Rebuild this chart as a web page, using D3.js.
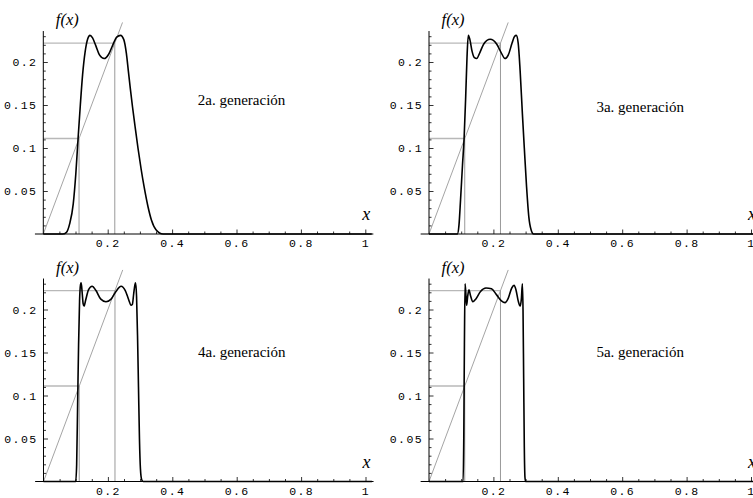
<!DOCTYPE html>
<html>
<head>
<meta charset="utf-8">
<script src="https://cdn.jsdelivr.net/npm/d3@7"></script>
<style>
  body { margin: 0; background: #fff; }
  svg { display: block; }
</style>
</head>
<body>
<svg id="chart" width="753" height="498"></svg>
<script>
// Panel titles
const titles = ['2a. generación', '3a. generación', '4a. generación', '5a. generación'];

// Curves, [x, f(x)]
const gen2 = [[0, 0], [0.06, 0], [0.072, 0.002], [0.082, 0.012], [0.093, 0.035], [0.101, 0.07],
  [0.108, 0.111], [0.115, 0.15], [0.122, 0.185], [0.13, 0.212], [0.138, 0.227], [0.145, 0.231],
  [0.153, 0.228], [0.163, 0.219], [0.175, 0.208], [0.189, 0.204], [0.203, 0.209], [0.215, 0.219],
  [0.228, 0.229], [0.24, 0.231], [0.25, 0.226], [0.258, 0.21], [0.264, 0.19], [0.27, 0.17],
  [0.277, 0.148], [0.285, 0.125], [0.294, 0.1], [0.304, 0.075], [0.313, 0.055], [0.325, 0.032],
  [0.336, 0.016], [0.35, 0.005], [0.372, 0], [1.02, 0]];

const gen3 = [[0, 0], [0.088, 0], [0.093, 0.01], [0.098, 0.04], [0.104, 0.08], [0.109, 0.111],
  [0.114, 0.16], [0.118, 0.205], [0.122, 0.231], [0.127, 0.226], [0.134, 0.212], [0.141, 0.205],
  [0.148, 0.204], [0.158, 0.211], [0.17, 0.221], [0.19, 0.2264], [0.21, 0.221], [0.224, 0.211],
  [0.236, 0.204], [0.246, 0.208], [0.258, 0.222], [0.266, 0.23], [0.271, 0.231], [0.277, 0.222],
  [0.283, 0.19], [0.29, 0.14], [0.296, 0.1], [0.303, 0.055], [0.31, 0.02], [0.317, 0.005],
  [0.325, 0], [1.02, 0]];

const gen4 = [[0, 0], [0.1, 0], [0.103, 0.02], [0.106, 0.09], [0.109, 0.16], [0.112, 0.21],
  [0.115, 0.229], [0.117, 0.231], [0.12, 0.22], [0.123, 0.207], [0.126, 0.204], [0.131, 0.211],
  [0.14, 0.223], [0.151, 0.227], [0.163, 0.222], [0.178, 0.212], [0.194, 0.209], [0.21, 0.212],
  [0.225, 0.221], [0.241, 0.227], [0.254, 0.222], [0.264, 0.212], [0.272, 0.205], [0.276, 0.206],
  [0.28, 0.218], [0.284, 0.229], [0.286, 0.231], [0.289, 0.215], [0.292, 0.17], [0.295, 0.11],
  [0.298, 0.05], [0.301, 0.015], [0.305, 0.002], [0.31, 0], [1.02, 0]];

const gen5 = [[0, 0], [0.106, 0], [0.108, 0.05], [0.11, 0.16], [0.112, 0.23], [0.115, 0.215],
  [0.117, 0.205], [0.12, 0.215], [0.124, 0.223], [0.129, 0.216], [0.136, 0.209], [0.145, 0.212],
  [0.16, 0.221], [0.177, 0.225], [0.194, 0.224], [0.21, 0.217], [0.225, 0.21], [0.236, 0.208],
  [0.246, 0.213], [0.257, 0.225], [0.264, 0.228], [0.27, 0.223], [0.277, 0.21], [0.283, 0.204],
  [0.287, 0.213], [0.29, 0.23], [0.292, 0.2], [0.294, 0.12], [0.296, 0.04], [0.298, 0.005],
  [0.3, 0], [1.02, 0]];

// Guide lines: the two levels and the diagonal y = x
const levels = [0.111, 0.222];
const diagonalEnd = 0.246;

// Ticks
const xMajorTicks = [0.2, 0.4, 0.6, 0.8, 1];
const xMinorTicks = [0.05, 0.1, 0.15, 0.25, 0.3, 0.35, 0.45, 0.5, 0.55, 0.65, 0.7, 0.75, 0.85, 0.9, 0.95];
const yMajorTicks = [0.05, 0.1, 0.15, 0.2];
const yMinorTicks = [0.01, 0.02, 0.03, 0.04, 0.06, 0.07, 0.08, 0.09, 0.11, 0.12, 0.13, 0.14,
  0.16, 0.17, 0.18, 0.19, 0.21, 0.22, 0.23];

// Layout of the 2x2 grid
const panels = [
  { title: titles[0], data: gen2, left: 43.3, base: 234, tx: 0.48, ty: 0.15 },
  { title: titles[1], data: gen3, left: 429, base: 234, tx: 0.52, ty: 0.142 },
  { title: titles[2], data: gen4, left: 43.5, base: 481.5, tx: 0.48, ty: 0.145 },
  { title: titles[3], data: gen5, left: 429, base: 481.5, tx: 0.52, ty: 0.145 },
];
const plotWidth = 322;
const yPerUnit = 860;

const svg = d3.select('#chart');
const fmt = d3.format('~g');

panels.forEach((p) => {
  const x = d3.scaleLinear().domain([0, 1]).range([p.left, p.left + plotWidth]);
  const y = d3.scaleLinear().domain([0, 0.2]).range([p.base, p.base - 0.2 * yPerUnit]);
  const g = svg.append('g');

  // gray guides
  levels.forEach((v) => {
    g.append('line')
      .attr('x1', x(0)).attr('x2', x(v)).attr('y1', y(v)).attr('y2', y(v))
      .attr('stroke', '#b8b8b8').attr('stroke-width', 1.4);
    g.append('line')
      .attr('x1', x(v)).attr('x2', x(v)).attr('y1', y(0)).attr('y2', y(v))
      .attr('stroke', '#9a9a9a').attr('stroke-width', 1);
  });
  g.append('line')
    .attr('x1', x(0)).attr('y1', y(0)).attr('x2', x(diagonalEnd)).attr('y2', y(diagonalEnd))
    .attr('stroke', '#9a9a9a').attr('stroke-width', 0.9);

  // axis lines
  g.append('line')
    .attr('x1', x(-0.026)).attr('x2', x(1.025)).attr('y1', y(0)).attr('y2', y(0))
    .attr('stroke', '#000').attr('stroke-width', 1);
  g.append('line')
    .attr('x1', x(0)).attr('x2', x(0)).attr('y1', y(0)).attr('y2', y(0.236))
    .attr('stroke', '#000').attr('stroke-width', 1);

  // ticks (pointing inward, Mathematica style)
  g.append('g').attr('transform', `translate(0,${y(0)})`)
    .call(d3.axisBottom(x).tickValues(xMajorTicks).tickFormat(fmt)
      .tickSizeInner(-4.5).tickSizeOuter(0).tickPadding(5));
  g.append('g').attr('transform', `translate(0,${y(0)})`)
    .call(d3.axisBottom(x).tickValues(xMinorTicks).tickFormat('')
      .tickSizeInner(-2.5).tickSizeOuter(0));
  g.append('g').attr('transform', `translate(${x(0)},0)`)
    .call(d3.axisLeft(y).tickValues(yMajorTicks).tickFormat(fmt)
      .tickSizeInner(-4.5).tickSizeOuter(0).tickPadding(6));
  g.append('g').attr('transform', `translate(${x(0)},0)`)
    .call(d3.axisLeft(y).tickValues(yMinorTicks).tickFormat('')
      .tickSizeInner(-2.5).tickSizeOuter(0));

  g.selectAll('.domain').remove();
  g.selectAll('.tick line').attr('stroke', '#000').attr('stroke-width', 0.8);
  g.selectAll('.tick text')
    .attr('fill', '#000')
    .style('font-family', '"Liberation Mono", "DejaVu Sans Mono", monospace')
    .style('font-size', '11.5px')
    .style('letter-spacing', '1.4px');

  // the curve
  const line = d3.line()
    .x(d => x(d[0]))
    .y(d => y(d[1]))
    .curve(d3.curveMonotoneX);
  g.append('path')
    .datum(p.data)
    .attr('d', line)
    .attr('fill', 'none')
    .attr('stroke', '#000')
    .attr('stroke-width', 1.6)
    .attr('stroke-linejoin', 'round');

  // labels
  g.append('text')
    .attr('x', x(0) + 24).attr('y', y(0) - 209)
    .attr('text-anchor', 'middle')
    .style('font-family', '"Liberation Serif", "Times New Roman", serif')
    .style('font-style', 'italic')
    .style('font-size', '16.5px')
    .text('f(x)');
  g.append('text')
    .attr('x', x(1.003)).attr('y', y(0) - 14)
    .attr('text-anchor', 'middle')
    .style('font-family', '"Liberation Serif", "Times New Roman", serif')
    .style('font-style', 'italic')
    .style('font-size', '18px')
    .text('x');
  g.append('text')
    .attr('x', x(p.tx)).attr('y', y(p.ty))
    .style('font-family', '"Liberation Serif", "Times New Roman", serif')
    .style('font-size', '15px')
    .text(p.title);
});
</script>
</body>
</html>
